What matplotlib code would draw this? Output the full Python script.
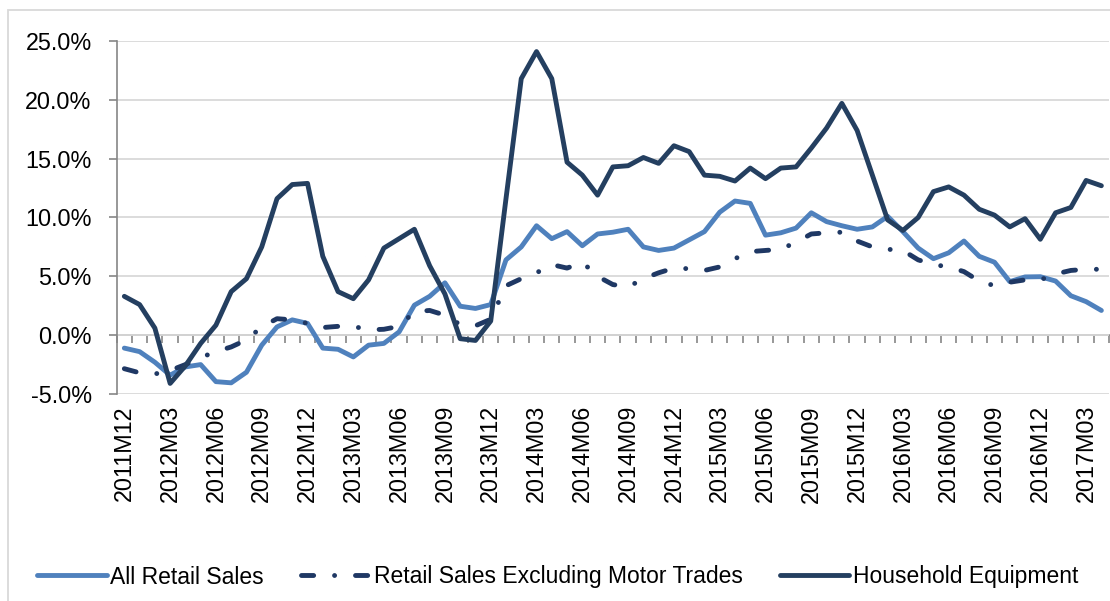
import numpy as np
import pandas as pd
import matplotlib
matplotlib.use('Agg')
import matplotlib.pyplot as plt
from matplotlib.patches import Rectangle

plt.rcParams['font.family'] = ['Liberation Sans', 'DejaVu Sans']

# months 2011M12 .. 2017M04
months = [f'{p.year}M{p.month:02d}' for p in pd.period_range('2011-12', periods=65, freq='M')]

all_retail = [
    -1.1, -1.4, -2.3, -3.4, -2.7, -2.5, -3.95, -4.05, -3.15, -0.85,
    0.7, 1.3, 1.0, -1.1, -1.2, -1.85, -0.85, -0.7, 0.28, 2.55,
    3.3, 4.45, 2.46, 2.27, 2.6, 6.4, 7.5, 9.3, 8.2, 8.8,
    7.6, 8.6, 8.75, 9.0, 7.5, 7.2, 7.4, 8.1, 8.8, 10.45,
    11.4, 11.2, 8.5, 8.7, 9.1, 10.4, 9.65, 9.3, 9.0, 9.2,
    10.1, 8.8, 7.4, 6.5, 7.0, 8.0, 6.7, 6.2, 4.55, 4.95,
    4.97, 4.6, 3.35, 2.85, 2.1,
]

excl_motor = [
    -2.85, -3.2, -3.3, -3.0, -2.5, -1.9, -1.4, -1.0, -0.4, 0.7,
    1.4, 1.3, 1.0, 0.65, 0.75, 0.75, 0.45, 0.5, 0.75, 2.0,
    2.1, 1.7, 0.9, 0.8, 1.35, 4.2, 4.8, 5.3, 6.0, 5.7,
    6.2, 5.0, 4.3, 4.1, 4.8, 5.3, 5.7, 5.65, 5.5, 5.8,
    6.5, 7.1, 7.2, 7.3, 7.9, 8.6, 8.7, 8.75, 8.0, 7.5,
    7.3, 7.2, 6.4, 6.0, 5.8, 5.4, 4.6, 4.2, 4.5, 4.7,
    4.7, 5.2, 5.5, 5.6, 5.6,
]

household = [
    3.3, 2.6, 0.6, -4.1, -2.6, -0.7, 0.85, 3.7, 4.8, 7.5,
    11.6, 12.8, 12.9, 6.7, 3.7, 3.1, 4.7, 7.4, 8.2, 9.0,
    5.9, 3.5, -0.3, -0.45, 1.2, 11.6, 21.8, 24.1, 21.8, 14.7,
    13.6, 11.9, 14.3, 14.4, 15.1, 14.6, 16.1, 15.6, 13.6, 13.5,
    13.1, 14.2, 13.3, 14.2, 14.3, 15.9, 17.6, 19.7, 17.4, 13.6,
    9.8, 8.9, 10.0, 12.2, 12.6, 11.9, 10.7, 10.2, 9.2, 9.9,
    8.15, 10.4, 10.85, 13.15, 12.7,
]

series_names = ['All Retail Sales', 'Retail Sales Excluding Motor Trades', 'Household Equipment']
y_ticks = [-5, 0, 5, 10, 15, 20, 25]

W, H = 1110, 601
fig = plt.figure(figsize=(W / 100, H / 100), dpi=100)
ax = fig.add_axes([116.7 / W, 1 - 394 / H, (1109 - 116.7) / W, (394 - 41) / H])

x = np.arange(len(months))
lw = 3.5
ax.plot(x, all_retail, color='#4F81BD', lw=lw, solid_joinstyle='round',
        solid_capstyle='round', label=series_names[0], zorder=3)
ax.plot(x, excl_motor, color='#1F3864', lw=lw, linestyle=(0, (2.5, 4.3, 0.01, 4.3)),
        dash_capstyle='round', dash_joinstyle='round', label=series_names[1], zorder=4)
ax.plot(x, household, color='#243F60', lw=lw, solid_joinstyle='round',
        solid_capstyle='round', label=series_names[2], zorder=5)

ax.set_xlim(-0.5, len(months) - 0.5)
ax.set_ylim(-5, 25)

# y axis
ax.set_yticks(y_ticks)
ax.set_yticklabels([f'{v:.1f}%' for v in y_ticks], fontsize=16.8)
ax.tick_params(axis='y', direction='out', length=6, width=1.2, color='#868686', pad=12)
ax.yaxis.grid(True, color='#D9D9D9', lw=1.3)
ax.set_axisbelow(True)

for s in ['top', 'right', 'bottom']:
    ax.spines[s].set_visible(False)
ax.spines['left'].set_color('#868686')
ax.spines['left'].set_linewidth(1.2)

# x labels at the bottom, every third month
ax.set_xticks(x[::3])
ax.set_xticklabels(months[::3], rotation=90, fontsize=16.8, va='top', ha='center')
ax.tick_params(axis='x', length=0, pad=8)

# category axis line at 0 with boundary tick marks
sec = ax.secondary_xaxis(1 / 6)
sec.set_xticks(np.arange(-0.5, len(months), 1))
sec.set_xticklabels([])
sec.tick_params(axis='x', direction='out', length=5.5, width=1.2, color='#868686')
sec.spines['bottom'].set_color('#868686')
sec.spines['bottom'].set_linewidth(1.2)

# legend
fig.legend(loc='center left', bbox_to_anchor=(37 / W, 1 - 577 / H), ncol=3,
           frameon=False, fontsize=16.5, handlelength=3.05, handletextpad=0.15,
           columnspacing=1.6, borderpad=0, borderaxespad=0)

# chart border
fig.patches.append(Rectangle((8 / W, -0.1), 1.2, 1 - 10 / H + 0.1, transform=fig.transFigure,
                             fill=False, edgecolor='#D9D9D9', lw=1.3))

fig.savefig('out.png', dpi=100, facecolor='white')
